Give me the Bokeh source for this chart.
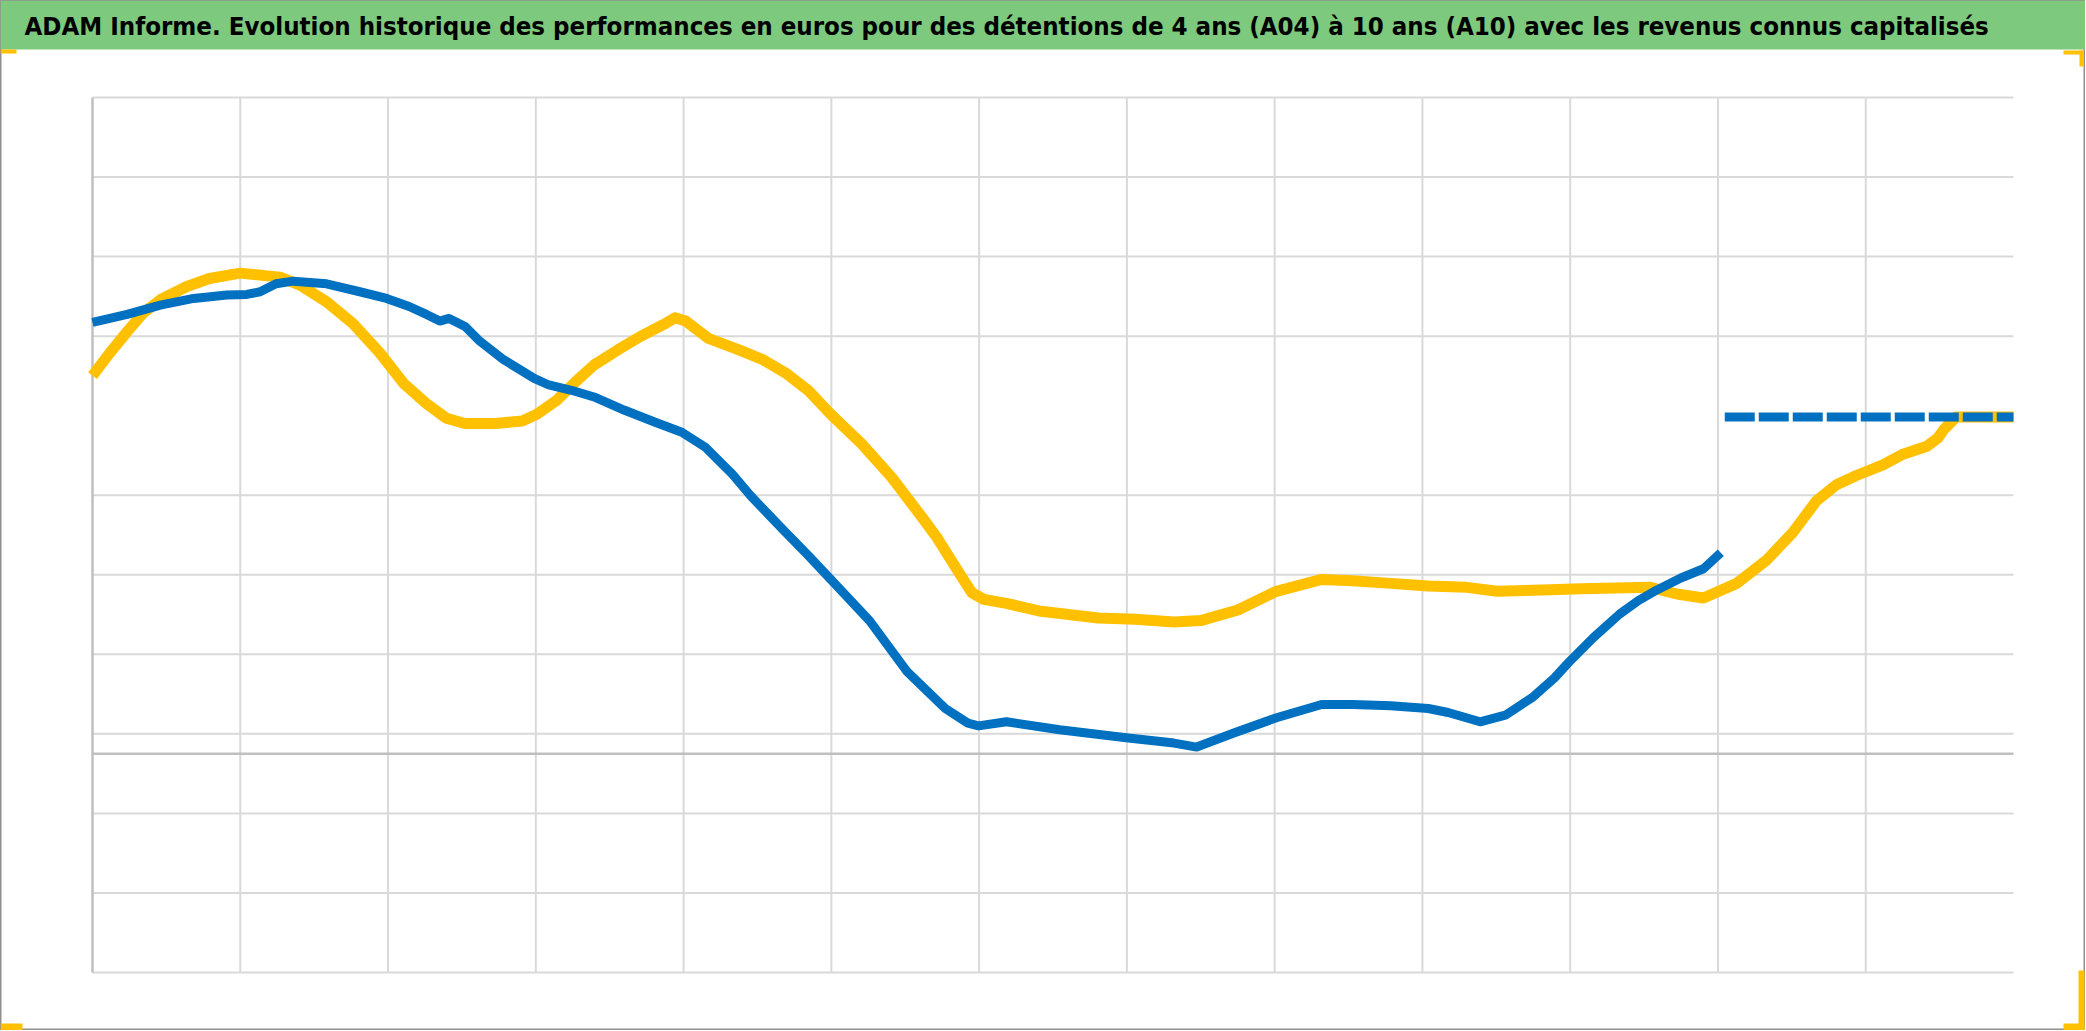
from bokeh.plotting import figure
from bokeh.models import Range1d
from bokeh.core.properties import value
from bokeh.embed import file_html
from bokeh.resources import INLINE

TITLE = ("ADAM Informe. Evolution historique des performances en euros pour des "
         "détentions de 4 ans (A04) à 10 ans (A10) avec les revenus connus capitalisés")

# ---- data (x: years from start of chart, y: performance in %) ----
yellow_x = [0.000, 0.117, 0.234, 0.342, 0.459, 0.639, 0.792, 0.999, 1.134, 1.269,
            1.404, 1.584, 1.764, 1.945, 2.107, 2.260, 2.395, 2.521, 2.728, 2.908,
            3.007, 3.142, 3.268, 3.394, 3.556, 3.709, 3.862, 3.943, 4.015, 4.168,
            4.375, 4.537, 4.690, 4.843, 4.996, 5.203, 5.410, 5.618, 5.717, 5.870,
            5.951, 6.032, 6.185, 6.419, 6.806, 7.058, 7.319, 7.499, 7.751, 8.012,
            8.318, 8.525, 8.786, 9.039, 9.300, 9.507, 9.813, 10.074, 10.542, 10.722,
            10.902, 11.127, 11.325, 11.505, 11.667, 11.802, 11.937, 12.117, 12.252, 12.414,
            12.487, 12.532, 12.576, 12.612, 13.000]
yellow_y = [47.53, 50.38, 53.05, 55.40, 57.07, 58.74, 59.75, 60.42, 60.17, 59.92,
            58.91, 56.82, 54.06, 50.38, 46.53, 44.02, 42.18, 41.51, 41.51, 41.84,
            42.68, 44.44, 46.76, 48.87, 50.78, 52.47, 53.94, 54.80, 54.39, 52.22,
            50.78, 49.54, 47.87, 45.69, 42.68, 39.00, 34.71, 29.62, 27.11, 22.59,
            20.25, 19.41, 18.91, 17.91, 17.07, 16.90, 16.57, 16.74, 18.08, 20.42,
            21.92, 21.76, 21.42, 21.09, 20.92, 20.42, 20.59, 20.75, 20.92, 20.08,
            19.58, 21.42, 24.27, 27.78, 31.80, 33.81, 34.98, 36.32, 37.66, 38.66,
            39.67, 40.84, 41.67, 42.34, 42.34]

blue_x = [0.000, 0.234, 0.459, 0.684, 0.909, 1.044, 1.134, 1.242, 1.359, 1.584,
          1.809, 1.990, 2.143, 2.260, 2.350, 2.413, 2.521, 2.620, 2.782, 2.989,
          3.088, 3.241, 3.394, 3.601, 3.808, 3.988, 4.150, 4.330, 4.456, 4.663,
          4.843, 4.996, 5.258, 5.510, 5.771, 5.924, 5.996, 6.185, 6.545, 6.995,
          7.319, 7.472, 7.733, 8.012, 8.318, 8.525, 8.786, 9.039, 9.174, 9.390,
          9.561, 9.741, 9.894, 9.993, 10.155, 10.335, 10.461, 10.587, 10.749, 10.902,
          11.019]
blue_y = [54.23, 55.23, 56.40, 57.24, 57.66, 57.74, 58.08, 59.08, 59.41, 59.08,
          58.08, 57.24, 56.23, 55.23, 54.39, 54.73, 53.72, 51.88, 49.54, 47.20,
          46.36, 45.69, 44.85, 43.18, 41.67, 40.42, 38.49, 35.15, 32.38, 28.37,
          24.94, 21.92, 16.74, 10.38, 5.69, 3.85, 3.51, 4.02, 3.01, 2.01,
          1.34, 0.84, 2.68, 4.52, 6.19, 6.19, 6.03, 5.69, 5.19, 4.02,
          4.85, 7.03, 9.54, 11.55, 14.56, 17.57, 19.25, 20.59, 22.09, 23.26,
          25.27]

blue_flat_x = [11.046, 13.000]
blue_flat_y = [42.34, 42.34]

# axis / grid values
X_MIN, X_MAX = 0, 13
Y_MIN, Y_MAX = -27.5, 82.5
x_grid = [1, 2, 3, 4, 5, 6, 7, 8, 9, 10, 11, 12]
y_grid = [-27.5, -17.5, -7.5, 2.5, 12.5, 22.5, 32.5, 52.5, 62.5, 72.5, 82.5]

assert len(yellow_x) == len(yellow_y) and len(blue_x) == len(blue_y)

# ---- layout (pixels inside the figure) ----
W, H = 2085, 1030
PL, PR, PT, PB = 92, 2013, 97, 972
sx = (PR - PL) / (X_MAX - X_MIN)
sy = (PB - PT) / (Y_MAX - Y_MIN)
xr0 = X_MIN - PL / sx
xr1 = X_MAX + (W - PR) / sx
yr1 = Y_MAX + PT / sy
yr0 = Y_MIN - (H - PB) / sy


def px2x(px):
    return xr0 + px / sx


def px2y(py):
    return yr1 - py / sy


p = figure(width=W, height=H, x_range=Range1d(xr0, xr1), y_range=Range1d(yr0, yr1),
           output_backend="svg", toolbar_location=None, min_border=0,
           x_axis_location=None, y_axis_location=None)
p.xgrid.visible = False
p.ygrid.visible = False
p.outline_line_color = "#8f8f8f"
p.outline_line_width = 2
p.background_fill_color = "white"
p.border_fill_color = "white"

# gridlines
p.segment(x0=x_grid, x1=x_grid, y0=[Y_MIN] * len(x_grid), y1=[Y_MAX] * len(x_grid),
          line_color="#d9d9d9", line_width=2)
p.segment(x0=[X_MIN] * len(y_grid), x1=[X_MAX] * len(y_grid), y0=y_grid, y1=y_grid,
          line_color="#d9d9d9", line_width=2)
# axis lines
p.segment(x0=[X_MIN], x1=[X_MIN], y0=[Y_MIN], y1=[Y_MAX], line_color="#bfbfbf", line_width=2.5)
p.segment(x0=[X_MIN], x1=[X_MAX], y0=[0], y1=[0], line_color="#bfbfbf", line_width=2.5)

# series
p.line(yellow_x, yellow_y, line_color="#FFC000", line_width=11, line_join="round")
p.line(blue_x, blue_y, line_color="#0070C0", line_width=9, line_join="round")
p.line(blue_flat_x, blue_flat_y, line_color="#0070C0", line_width=9, line_dash="30 4")

# title bar
p.quad(left=[px2x(0)], right=[px2x(W)], top=[px2y(0)], bottom=[px2y(49)],
       fill_color="#7dc97d", line_color=None)
p.text(x=[px2x(24)], y=[px2y(25)], text=[TITLE],
       text_font=value("DejaVu Sans Condensed, Lato"),
       text_font_style="bold", text_font_size="25.6px", text_baseline="middle",
       text_align="left", text_color="black")

# corner selection handles
gold = "#FFC000"
p.quad(left=[px2x(0)], right=[px2x(16)], top=[px2y(49)], bottom=[px2y(53)],
       fill_color=gold, line_color=None)
p.quad(left=[px2x(2063), px2x(2079)], right=[px2x(2083), px2x(2083)],
       top=[px2y(50), px2y(50)], bottom=[px2y(54), px2y(66)],
       fill_color=gold, line_color=None)
p.quad(left=[px2x(0)], right=[px2x(22)], top=[px2y(1023)], bottom=[px2y(1030)],
       fill_color=gold, line_color=None)
p.quad(left=[px2x(2078), px2x(2063)], right=[px2x(2084), px2x(2084)],
       top=[px2y(970), px2y(1023)], bottom=[px2y(1030), px2y(1030)],
       fill_color=gold, line_color=None)

open("out.html", "w").write(file_html(p, INLINE))
